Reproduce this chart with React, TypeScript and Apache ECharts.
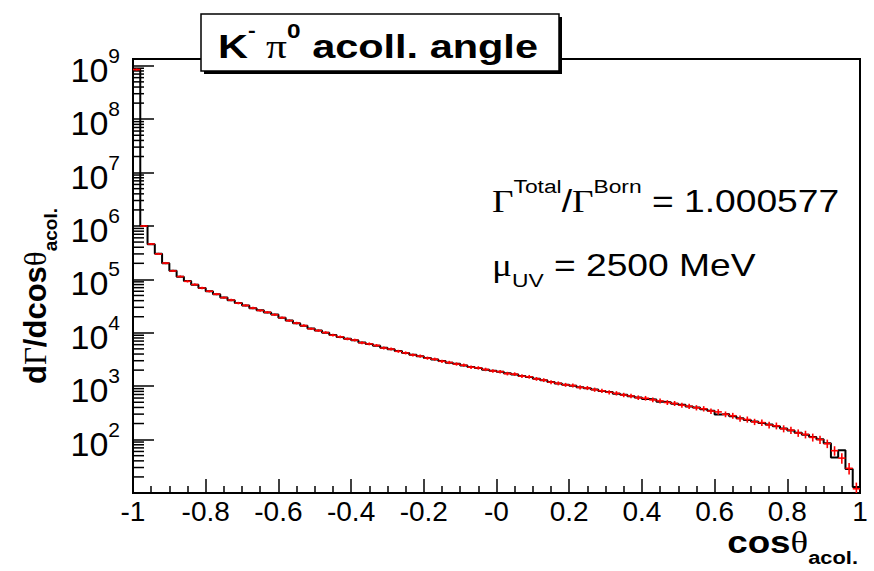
import { useEffect, useRef } from "react";
import * as echarts from "echarts";

const X_MIN = -1;
const X_MAX = 1;
const BIN_WIDTH = 0.02;
const Y_MIN = 10;
const Y_MAX = 1.34e9;

// black histogram (100 bins of width 0.02, from -1 to 1)
const blackCounts = [
  8.5e8, 1.0e6, 4.57e5, 3.02e5, 2.0e5, 1.45e5, 1.12e5, 9.33e4, 7.94e4, 6.92e4,
  6.03e4, 5.25e4, 4.57e4, 4.07e4, 3.63e4, 3.24e4, 2.88e4, 2.63e4, 2.4e4, 2.19e4,
  1.91e4, 1.7e4, 1.51e4, 1.35e4, 1.2e4, 1.1e4, 1.0e4, 9120, 8320, 7760,
  7240, 6610, 6170, 5750, 5250, 4900, 4570, 4170, 3890, 3630,
  3390, 3160, 2950, 2750, 2630, 2450, 2290, 2190, 2040, 1950,
  1860, 1740, 1660, 1550, 1480, 1380, 1290, 1200, 1120, 1070,
  1020, 955, 912, 871, 813, 776, 724, 692, 646, 617,
  575, 562, 510, 501, 468, 447, 417, 398, 372, 347,
  295, 302, 275, 251, 234, 219, 204, 191, 178, 162,
  148, 135, 123, 112, 102, 85, 46, 63, 28, 13,
];

// red histogram with error bars
const redCounts = [
  8.5e8, 1.0e6, 4.6e5, 3.0e5, 2.02e5, 1.44e5, 1.13e5, 9.2e4, 8.0e4, 6.9e4,
  6.0e4, 5.3e4, 4.55e4, 4.1e4, 3.6e4, 3.25e4, 2.9e4, 2.62e4, 2.42e4, 2.18e4,
  1.92e4, 1.69e4, 1.52e4, 1.36e4, 1.19e4, 1.1e4, 1.01e4, 9000, 8400, 7700,
  7300, 6500, 6200, 5800, 5200, 4950, 4500, 4200, 3850, 3650,
  3350, 3200, 2930, 2780, 2600, 2470, 2270, 2200, 2060, 1930,
  1870, 1720, 1680, 1540, 1500, 1370, 1300, 1190, 1130, 1060,
  1030, 950, 925, 860, 820, 770, 735, 685, 655, 610,
  595, 555, 530, 495, 475, 440, 420, 395, 378, 342,
  330, 298, 280, 248, 238, 215, 208, 188, 181, 160,
  150, 133, 125, 110, 100, 84, 62, 45, 29, 12,
];

// relative error of the red points
const redRelErrors = [
  0.001, 0.004, 0.005, 0.005, 0.006, 0.006, 0.006, 0.007, 0.007, 0.008,
  0.008, 0.008, 0.009, 0.009, 0.01, 0.01, 0.01, 0.011, 0.011, 0.012,
  0.012, 0.013, 0.013, 0.014, 0.015, 0.015, 0.016, 0.016, 0.017, 0.018,
  0.018, 0.019, 0.02, 0.02, 0.021, 0.022, 0.022, 0.023, 0.024, 0.025,
  0.025, 0.026, 0.027, 0.028, 0.028, 0.029, 0.03, 0.031, 0.032, 0.033,
  0.034, 0.035, 0.036, 0.037, 0.038, 0.039, 0.04, 0.041, 0.042, 0.043,
  0.044, 0.045, 0.046, 0.048, 0.049, 0.05, 0.052, 0.053, 0.055, 0.056,
  0.058, 0.06, 0.061, 0.063, 0.065, 0.067, 0.069, 0.071, 0.073, 0.076,
  0.078, 0.081, 0.084, 0.087, 0.09, 0.093, 0.096, 0.1, 0.104, 0.108,
  0.112, 0.117, 0.122, 0.128, 0.134, 0.14, 0.16, 0.18, 0.2, 0.25,
];

const yMinorMultipliers = [2, 3, 4, 5, 6, 7, 8, 9];
const yDecadeExponents = [1, 2, 3, 4, 5, 6, 7, 8];

const SANS = "'Liberation Sans', Arial, Helvetica, sans-serif";
const SERIF = "'Liberation Serif', 'Times New Roman', serif";

export default function App() {
  const ref = useRef<HTMLDivElement>(null);

  useEffect(() => {
    if (!ref.current) return;
    const chart = echarts.init(ref.current, undefined, { renderer: "svg" });

    const blackLine: number[][] = [];
    blackLine.push([X_MIN, Y_MIN]);
    blackCounts.forEach((v, i) => {
      const lo = X_MIN + i * BIN_WIDTH;
      const hi = lo + BIN_WIDTH;
      blackLine.push([lo, v]);
      blackLine.push([hi, v]);
    });
    blackLine.push([X_MAX, Y_MIN]);

    const redData = redCounts.map((v, i) => {
      const lo = X_MIN + i * BIN_WIDTH;
      return [lo, lo + BIN_WIDTH, v, redRelErrors[i]];
    });

    const minorTicks: number[][] = [];
    yDecadeExponents.forEach((e) => {
      yMinorMultipliers.forEach((m) => {
        const v = m * Math.pow(10, e);
        if (v < Y_MAX) minorTicks.push([X_MIN, v]);
      });
    });

    const option: any = {
      animation: false,
      backgroundColor: "#fff",
      grid: {
        left: 133,
        right: 14,
        top: 59,
        bottom: 78,
        show: true,
        borderColor: "#000",
        borderWidth: 2,
        backgroundColor: "transparent",
        containLabel: false,
        outerBoundsMode: "none",
      },
      xAxis: {
        type: "value",
        min: X_MIN,
        max: X_MAX,
        interval: 0.2,
        axisLine: { show: true, onZero: false, lineStyle: { color: "#000", width: 2 } },
        axisTick: { show: true, inside: true, length: 14, lineStyle: { color: "#000", width: 1.5 } },
        minorTick: { show: true, splitNumber: 4, length: 7, lineStyle: { color: "#000", width: 1.5 } },
        splitLine: { show: false },
        axisLabel: {
          show: true,
          margin: 4,
          color: "#000",
          fontSize: 28,
          fontFamily: SANS,
          formatter: (v: number) => (Math.abs(v) < 1e-9 ? "-0" : String(Math.round(v * 10) / 10)),
        },
      },
      yAxis: {
        type: "log",
        logBase: 10,
        min: Y_MIN,
        max: Y_MAX,
        interval: 1,
        axisLine: { show: true, onZero: false, lineStyle: { color: "#000", width: 2 } },
        axisTick: { show: true, inside: true, length: 21, lineStyle: { color: "#000", width: 1.5 } },
        splitLine: { show: false },
        axisLabel: {
          show: true,
          margin: 13,
          showMinLabel: false,
          showMaxLabel: false,
          formatter: (v: number) => `{b|10}{e|${Math.round(Math.log10(v))}}`,
          rich: {
            b: { fontSize: 34, fontFamily: SANS, color: "#000", padding: [8, 0, 0, 0] },
            e: { fontSize: 21, fontFamily: SANS, color: "#000", verticalAlign: "top" },
          },
        },
      },
      series: [
        {
          type: "custom",
          name: "minorTicks",
          silent: true,
          clip: false,
          data: minorTicks,
          encode: { x: 0, y: 1 },
          renderItem: (_p: any, api: any) => {
            const pt = api.coord([api.value(0), api.value(1)]);
            return {
              type: "line",
              shape: { x1: pt[0], y1: pt[1], x2: pt[0] + 11, y2: pt[1] },
              style: { stroke: "#000", lineWidth: 1.5 },
            };
          },
          z: 1,
        },
        {
          type: "line",
          name: "black",
          data: blackLine,
          showSymbol: false,
          symbol: "none",
          lineStyle: { color: "#000", width: 2 },
          clip: true,
          z: 2,
        },
        {
          type: "custom",
          name: "red",
          data: redData,
          encode: { x: [0, 1], y: 2 },
          clip: true,
          renderItem: (_p: any, api: any) => {
            const lo = api.value(0);
            const hi = api.value(1);
            const v = api.value(2);
            const e = api.value(3);
            const mid = (lo + hi) / 2;
            const a = api.coord([lo, v]);
            const b = api.coord([hi, v]);
            const up = api.coord([mid, v * (1 + e)]);
            const dn = api.coord([mid, v * (1 - e)]);
            const st = { stroke: "#ff0000", lineWidth: 1.6 };
            return {
              type: "group",
              children: [
                { type: "line", shape: { x1: a[0], y1: a[1], x2: b[0], y2: b[1] }, style: st },
                { type: "line", shape: { x1: up[0], y1: up[1] - 1, x2: dn[0], y2: dn[1] + 1 }, style: st },
              ],
            };
          },
          z: 3,
        },
      ],
      graphic: [
        {
          type: "rect",
          shape: { x: 204, y: 17, width: 358, height: 57 },
          style: { fill: "#000" },
          z: 100,
        },
        {
          type: "rect",
          shape: { x: 201, y: 14, width: 358, height: 57 },
          style: { fill: "#fff", stroke: "#000", lineWidth: 1.5 },
          z: 101,
        },
        {
          type: "text",
          x: 378,
          y: 42,
          scaleX: 1.22,
          z: 102,
          style: {
            text: "{k|K}{ks|-}{p| π}{ps|0}{k| acoll. angle}",
            align: "center",
            verticalAlign: "middle",
            rich: {
              k: { fontSize: 34, fontWeight: "bold", fontFamily: SANS, fill: "#000", padding: [8, 0, 0, 0] },
              ks: { fontSize: 19, fontWeight: "bold", fontFamily: SANS, fill: "#000", verticalAlign: "top" },
              p: { fontSize: 34, fontFamily: SERIF, fill: "#000", padding: [8, 0, 0, 0] },
              ps: { fontSize: 20, fontWeight: "bold", fontFamily: SANS, fill: "#000", verticalAlign: "top" },
            },
          },
        },
        {
          type: "text",
          x: 492,
          y: 197,
          scaleX: 1.2,
          z: 102,
          style: {
            text: "{g|Γ}{s|Total}{m|/}{g|Γ}{s|Born}{m| = 1.000577}",
            align: "left",
            verticalAlign: "middle",
            rich: {
              g: { fontSize: 31, fontFamily: SERIF, fill: "#000", padding: [9, 0, 0, 0] },
              s: { fontSize: 19, fontFamily: SANS, fill: "#000", verticalAlign: "top" },
              m: { fontSize: 31, fontFamily: SANS, fill: "#000", padding: [9, 0, 0, 0] },
            },
          },
        },
        {
          type: "text",
          x: 492,
          y: 270,
          scaleX: 1.2,
          z: 102,
          style: {
            text: "{g|μ}{s|UV}{m| = 2500 MeV}",
            align: "left",
            verticalAlign: "middle",
            rich: {
              g: { fontSize: 31, fontFamily: SERIF, fill: "#000", padding: [0, 0, 9, 0] },
              s: { fontSize: 19, fontFamily: SANS, fill: "#000", verticalAlign: "bottom" },
              m: { fontSize: 31, fontFamily: SANS, fill: "#000", padding: [0, 0, 9, 0] },
            },
          },
        },
        {
          type: "text",
          x: 40,
          y: 296,
          rotation: Math.PI / 2,
          z: 102,
          style: {
            text: "{m|d}{g|Γ}{m|/dcos}{g|θ}{s|acol.}",
            align: "center",
            verticalAlign: "middle",
            rich: {
              m: { fontSize: 31, fontWeight: "bold", fontFamily: SANS, fill: "#000", padding: [0, 0, 9, 0] },
              g: { fontSize: 31, fontFamily: SERIF, fill: "#000", padding: [0, 0, 9, 0] },
              s: { fontSize: 19, fontWeight: "bold", fontFamily: SANS, fill: "#000", verticalAlign: "bottom" },
            },
          },
        },
        {
          type: "text",
          x: 858,
          y: 546,
          scaleX: 1.15,
          z: 102,
          style: {
            text: "{m|cos}{g|θ}{s|acol.}",
            align: "right",
            verticalAlign: "middle",
            rich: {
              m: { fontSize: 32, fontWeight: "bold", fontFamily: SANS, fill: "#000", padding: [0, 0, 9, 0] },
              g: { fontSize: 32, fontFamily: SERIF, fill: "#000", padding: [0, 0, 9, 0] },
              s: { fontSize: 19, fontWeight: "bold", fontFamily: SANS, fill: "#000", verticalAlign: "bottom" },
            },
          },
        },
      ],
    };

    chart.setOption(option);
    return () => chart.dispose();
  }, []);

  return (
    <div
      ref={ref}
      style={{ position: "absolute", left: 0, top: 0, width: 874, height: 571, background: "#fff" }}
    />
  );
}
